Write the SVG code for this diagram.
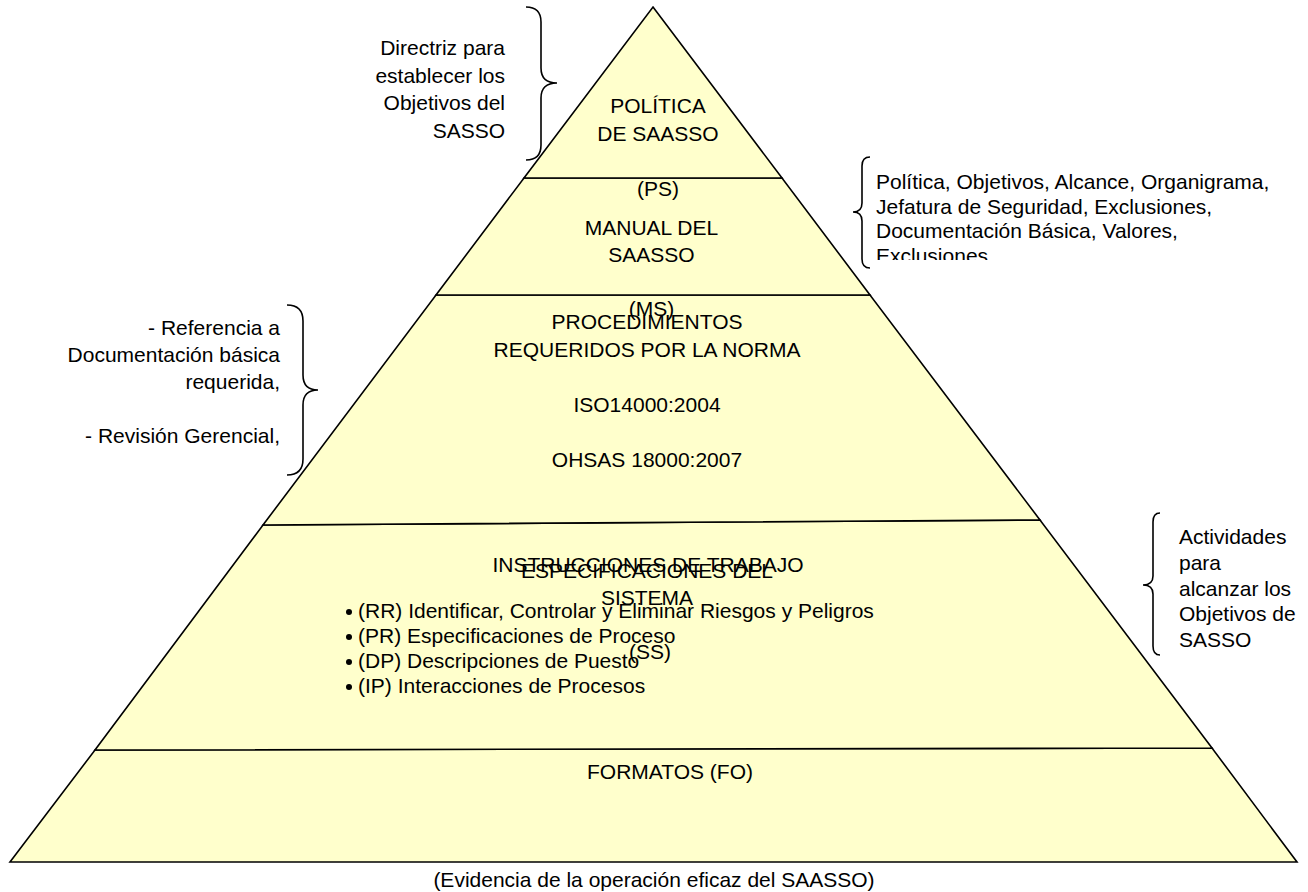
<svg xmlns="http://www.w3.org/2000/svg" width="1308" height="892" viewBox="0 0 1308 892">
<defs>
<style>
.tier{fill:#FFFFCC;stroke:#000;stroke-width:1.6;stroke-linejoin:miter}
.t{font-family:"Liberation Sans",Arial,sans-serif;font-size:21px;fill:#000}
.m{text-anchor:middle}
.e{text-anchor:end}
.brace{fill:none;stroke:#000;stroke-width:1.6}
</style>
<clipPath id="clipR1"><rect x="868" y="150" width="440" height="110"/></clipPath>
</defs>
<rect width="1308" height="892" fill="#fff"/>

<g id="tier5">
<polygon class="tier" points="95,750 1212,748 1297,862 10,862"/>
<text class="t m" x="670" y="779">FORMATOS (FO)</text>
</g>

<g id="tier4">
<polygon class="tier" points="263,525 1040,520 1212,748 95,750"/>
<text class="t m" x="648" y="572">INSTRUCCIONES DE TRABAJO</text>
<circle cx="349" cy="612" r="3" fill="#000"/>
<circle cx="349" cy="637" r="3" fill="#000"/>
<circle cx="349" cy="662" r="3" fill="#000"/>
<circle cx="349" cy="687" r="3" fill="#000"/>
<text class="t" x="358" y="618">(RR) Identificar, Controlar y Eliminar Riesgos y Peligros</text>
<text class="t" x="358" y="643">(PR) Especificaciones de Proceso</text>
<text class="t" x="358" y="668">(DP) Descripciones de Puesto</text>
<text class="t" x="358" y="693">(IP) Interacciones de Procesos</text>
<text class="t m" x="647" y="578">ESPECIFICACIONES DEL</text>
<text class="t m" x="647" y="605">SISTEMA</text>
<text class="t m" x="650" y="659">(SS)</text>
</g>

<g id="tier3">
<polygon class="tier" points="436,295 870,295 1040,520 263,525"/>
<text class="t m" x="647" y="329">PROCEDIMIENTOS</text>
<text class="t m" x="647" y="357">REQUERIDOS POR LA NORMA</text>
<text class="t m" x="647" y="412">ISO14000:2004</text>
<text class="t m" x="647" y="467">OHSAS 18000:2007</text>
</g>

<g id="tier2">
<polygon class="tier" points="524,178 782,178 870,295 436,295"/>
<text class="t m" x="651.5" y="235">MANUAL DEL</text>
<text class="t m" x="651.5" y="262">SAASSO</text>
<text class="t m" x="651.5" y="316">(MS)</text>
</g>

<g id="tier1">
<polygon class="tier" points="653,7 782,178 524,178"/>
<text class="t m" x="658" y="113">POLÍTICA</text>
<text class="t m" x="658" y="141">DE SAASSO</text>
<text class="t m" x="658" y="196">(PS)</text>
</g>

<g id="note-policy">
<text class="t e" x="505" y="55">Directriz para</text>
<text class="t e" x="505" y="82.5">establecer los</text>
<text class="t e" x="505" y="110">Objetivos del</text>
<text class="t e" x="505" y="137.5">SASSO</text>
</g>

<g id="note-manual" clip-path="url(#clipR1)">
<text class="t" x="876" y="189">Política, Objetivos, Alcance, Organigrama,</text>
<text class="t" x="876" y="213.5">Jefatura de Seguridad, Exclusiones,</text>
<text class="t" x="876" y="238">Documentación Básica, Valores,</text>
<text class="t" x="876" y="263">Exclusiones</text>
</g>

<g id="note-procedures">
<text class="t e" x="280" y="335">- Referencia a</text>
<text class="t e" x="280" y="362">Documentación básica</text>
<text class="t e" x="280" y="389">requerida,</text>
<text class="t e" x="280" y="443">- Revisión Gerencial,</text>
</g>

<g id="note-activities">
<text class="t" x="1179" y="544">Actividades</text>
<text class="t" x="1179" y="570">para</text>
<text class="t" x="1179" y="596">alcanzar los</text>
<text class="t" x="1179" y="621">Objetivos de</text>
<text class="t" x="1179" y="647">SASSO</text>
</g>

<g id="caption">
<text class="t m" x="654" y="887">(Evidencia de la operación eficaz del SAASSO)</text>
</g>

<g id="connectors">
<path class="brace" d="M526,7 Q541,7 541,22 L541,68 Q541,83 557,83 Q541,83 541,98 L541,145 Q541,160 526,160"/>
<path class="brace" d="M287,305 Q303,305 303,321 L303,375 Q303,390 318,390 Q303,390 303,405 L303,459 Q303,475 287,475"/>
<path class="brace" d="M870,157 Q862,157 862,166 L862,203 Q862,212 853,212 Q862,212 862,221 L862,259 Q862,268 870,268"/>
<path class="brace" d="M1160,513 Q1153,513 1153,522 L1153,576 Q1153,585 1143,585 Q1153,585 1153,594 L1153,646 Q1153,655 1160,655"/>
</g>
</svg>
